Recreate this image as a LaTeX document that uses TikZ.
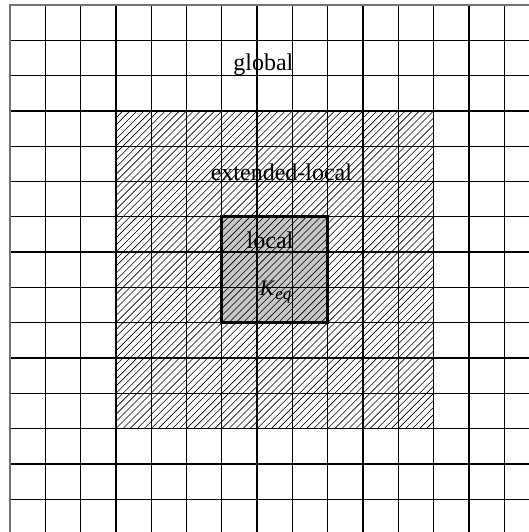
\documentclass[tikz,border=0pt]{standalone}
\usepackage{fontspec}
\setmainfont{Liberation Serif}
\begin{document}
\begin{tikzpicture}[x=1pt,y=-1pt,
  gridline/.style={line width=1.35pt,black},
  outerline/.style={line width=1.35pt,black!55},
  hatchline/.style={line width=0.6pt,black},
  localfill/.style={fill=black!22},
  localborder/.style={line width=2.8pt,black},
  lbl/.style={inner sep=0pt,anchor=base,font=\fontsize{24}{28}\selectfont}]
\useasboundingbox (0,0) rectangle (529,532);
\clip (0,0) rectangle (529,532);
\fill[white] (0,0) rectangle (529,532);
% gray local square
\fill[localfill] (221.8,216.8) rectangle (327.7,322.7);
% hatching of the extended-local region
\begin{scope}
  \clip (115.9,110.9) rectangle (433.6,428.6);
  \foreach \k in {0,...,91}{
    \pgfmathsetmacro\c{226.8+7.06*\k}
    \draw[hatchline] (\c-428.6,428.6) -- (\c-110.9,110.9);
  }
\end{scope}
% grid
\foreach \i in {1,...,15}{
  \draw[gridline] ({10+35.3*\i},5) -- ({10+35.3*\i},540);
  \draw[gridline] (10,{5+35.3*\i}) -- (540,{5+35.3*\i});
}
\draw[outerline] (10,540) -- (10,5) -- (540,5);
% local border
\draw[localborder] (221.8,216.8) rectangle (327.7,322.7);
% labels
\node[lbl] (global) at (263.4,71) {global};
\node[lbl] (extlocal) at (281.4,180) {extended-local};
\node[lbl] (local) at (270,248) {local};
\node[lbl,anchor=base west,font=\fontsize{22}{26}\selectfont] (keq) at (259.5,295)
  {\textit{K}\raisebox{-4pt}{\fontsize{17}{19}\selectfont\textit{eq}}};
\end{tikzpicture}
\end{document}
